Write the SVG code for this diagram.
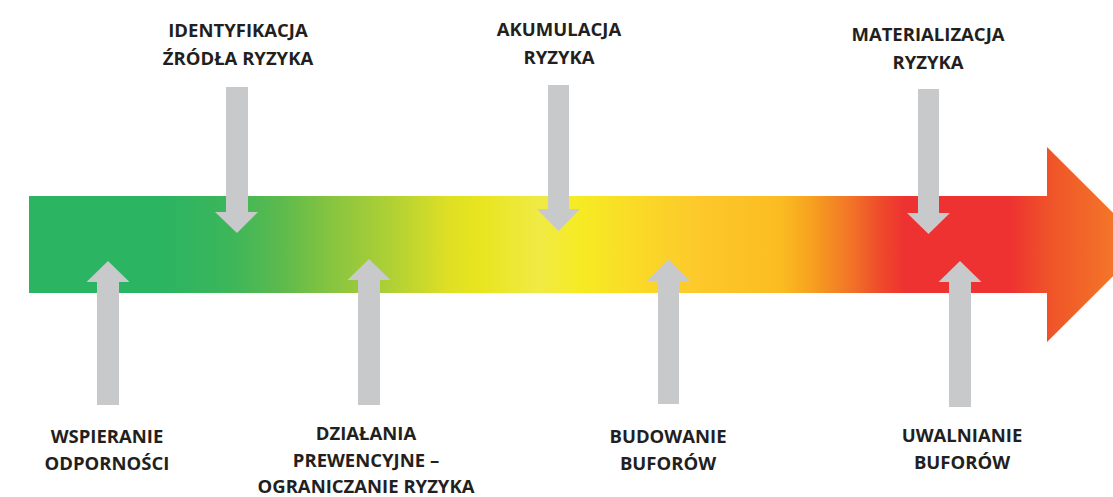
<svg xmlns="http://www.w3.org/2000/svg" width="1113" height="497" viewBox="0 0 1113 497">
  <defs>
    <linearGradient id="band" gradientUnits="userSpaceOnUse" x1="29" y1="0" x2="1113" y2="0">
      <stop offset="0" stop-color="#2bb462"/>
      <stop offset="0.121" stop-color="#2bb462"/>
      <stop offset="0.185" stop-color="#3cb65a"/>
      <stop offset="0.232" stop-color="#5cba4d"/>
      <stop offset="0.278" stop-color="#86c440"/>
      <stop offset="0.333" stop-color="#afd035"/>
      <stop offset="0.388" stop-color="#dfe024"/>
      <stop offset="0.416" stop-color="#e8e51f"/>
      <stop offset="0.471" stop-color="#f0ea45"/>
      <stop offset="0.508" stop-color="#f6eb23"/>
      <stop offset="0.545" stop-color="#f9df26"/>
      <stop offset="0.619" stop-color="#fdc82b"/>
      <stop offset="0.693" stop-color="#fbbc22"/>
      <stop offset="0.720" stop-color="#f7a31f"/>
      <stop offset="0.757" stop-color="#f27527"/>
      <stop offset="0.785" stop-color="#ee4b2b"/>
      <stop offset="0.808" stop-color="#ee3231"/>
      <stop offset="0.905" stop-color="#ee3231"/>
      <stop offset="0.942" stop-color="#ef5429"/>
      <stop offset="1" stop-color="#f47528"/>
    </linearGradient>
  </defs>
  <style>
    .arr { fill: #c8c9cb; }
    .lbl { font-family: "Open Sans", "Liberation Sans", sans-serif; font-weight: 700; font-size: 18.5px; fill: #231f20; text-anchor: middle; }
  </style>
  <g id="timeline">
    <path d="M29,196 H1047 V147 L1145,244.5 L1047,342 V293 H29 Z" fill="url(#band)"/>
  </g>
  <g id="connectors">
    <polygon class="arr" points="226,87 248,87 248,212 258,212 237,233 215,212 226,212"/>
    <polygon class="arr" points="548,85 569,85 569,209 580,209 558.5,231 537,209 548,209"/>
    <polygon class="arr" points="918,89 939,89 939,213 950,213 928.5,234 907,213 918,213"/>
    <polygon class="arr" points="97,405 119,405 119,282 129.5,282 108,261 86.5,282 97,282"/>
    <polygon class="arr" points="358,405 380,405 380,280 390.5,280 369,259 347.5,280 358,280"/>
    <polygon class="arr" points="658,404 679,404 679,281 690,281 668.5,259 647,281 658,281"/>
    <polygon class="arr" points="949,407 971,407 971,282 981.5,282 960,261 938.5,282 949,282"/>
  </g>
  <g id="n-identyfikacja">
    <text class="lbl" x="238" y="37">IDENTYFIKACJA</text>
    <text class="lbl" x="238" y="65">ŹRÓDŁA RYZYKA</text>
  </g>
  <g id="n-akumulacja">
    <text class="lbl" x="559" y="36">AKUMULACJA</text>
    <text class="lbl" x="559" y="64">RYZYKA</text>
  </g>
  <g id="n-materializacja">
    <text class="lbl" x="928" y="41">MATERIALIZACJA</text>
    <text class="lbl" x="928" y="69">RYZYKA</text>
  </g>
  <g id="n-wspieranie">
    <text class="lbl" x="107" y="443">WSPIERANIE</text>
    <text class="lbl" x="107" y="470">ODPORNOŚCI</text>
  </g>
  <g id="n-dzialania">
    <text class="lbl" x="366" y="440">DZIAŁANIA</text>
    <text class="lbl" x="366" y="467">PREWENCYJNE –</text>
    <text class="lbl" x="366" y="493">OGRANICZANIE RYZYKA</text>
  </g>
  <g id="n-budowanie">
    <text class="lbl" x="668" y="443">BUDOWANIE</text>
    <text class="lbl" x="668" y="470">BUFORÓW</text>
  </g>
  <g id="n-uwalnianie">
    <text class="lbl" x="962" y="442">UWALNIANIE</text>
    <text class="lbl" x="962" y="469">BUFORÓW</text>
  </g>
</svg>
